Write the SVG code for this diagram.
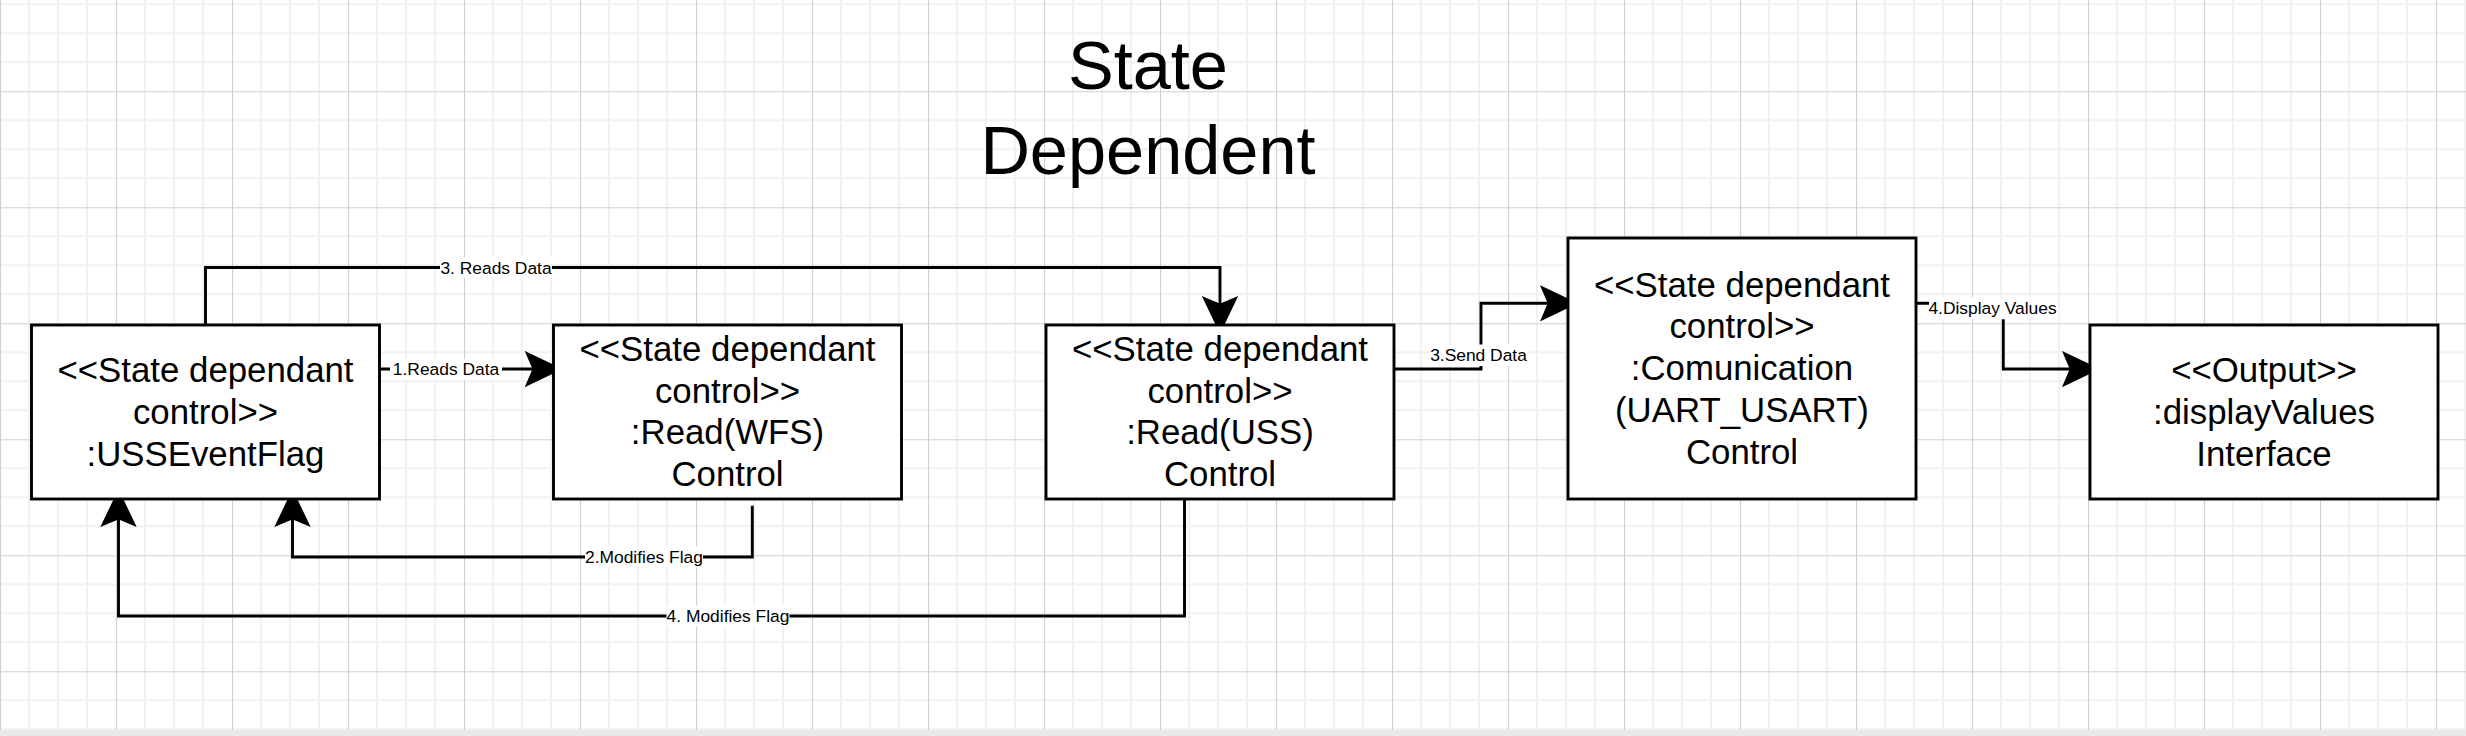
<svg xmlns="http://www.w3.org/2000/svg" width="2466" height="736" viewBox="0 0 2466 736">
  <style>
    .box { fill: #ffffff; stroke: #000000; stroke-width: 2.9; }
    .btxt { font-family: "Liberation Sans", Arial, Helvetica, sans-serif; font-size: 34.8px; fill: #000000; text-anchor: middle; }
    .title { font-family: "Liberation Sans", Arial, Helvetica, sans-serif; font-size: 68.5px; fill: #000000; text-anchor: middle; }
    .edge { fill: none; stroke: #000000; stroke-width: 2.9; marker-end: url(#arr); }
    .edge-plain { fill: none; stroke: #000000; stroke-width: 2.9; }
    .lbg { fill: #ffffff; }
    .ltxt { font-family: "Liberation Sans", Arial, Helvetica, sans-serif; font-size: 17.4px; fill: #000000; text-anchor: middle; }
  </style>
  <defs>
    <pattern id="grid" patternUnits="userSpaceOnUse" x="0" y="91.3" width="116" height="116">
      <rect x="0" y="0" width="116" height="116" fill="#ffffff"/>
      <path d="M29,0 V116 M58,0 V116 M87,0 V116 M0,29 H116 M0,58 H116 M0,87 H116" stroke="#f1f1f1" stroke-width="2" fill="none"/>
      <path d="M0.5,0 V116 M0,0.5 H116" stroke="#cfcfcf" stroke-width="1.2" fill="none"/>
    </pattern>
    <marker id="arr" markerUnits="userSpaceOnUse" markerWidth="40" markerHeight="40" viewBox="-6 -14 28 28" refX="0" refY="0" orient="auto" overflow="visible">
      <path d="M-5,-11.7 L19.5,0 L-5,11.7 L0,0 Z" fill="#000000" stroke="#000000" stroke-width="1"/>
    </marker>
  </defs>

  <rect x="0" y="0" width="2466" height="730" fill="url(#grid)"/>
  <rect x="0" y="730" width="2466" height="6" fill="#e9e9e9"/>

  <g id="title">
    <text class="title" x="1148" y="89">State</text>
    <text class="title" x="1148" y="174">Dependent</text>
  </g>

  <g id="connectors">
    <g id="c1">
      <path class="edge" d="M379.5,369 H533.2"/>
      <rect class="lbg" x="390" y="359" width="112" height="21"/>
      <text class="ltxt" x="446" y="375">1.Reads Data</text>
    </g>
    <g id="c2">
      <path class="edge" d="M205.5,325 V267.5 H1220 V304.5"/>
      <rect class="lbg" x="440" y="257" width="112" height="21"/>
      <text class="ltxt" x="496" y="273.5">3. Reads Data</text>
    </g>
    <g id="c3">
      <path class="edge" d="M752.3,505.7 V557 H292.5 V518.5"/>
      <rect class="lbg" x="585" y="546.5" width="118" height="21"/>
      <text class="ltxt" x="644" y="563">2.Modifies Flag</text>
    </g>
    <g id="c4">
      <path class="edge" d="M1184.5,499 V616 H118.5 V518.5"/>
      <rect class="lbg" x="666.5" y="605.5" width="123" height="21"/>
      <text class="ltxt" x="728" y="622">4. Modifies Flag</text>
    </g>
    <g id="c5">
      <path class="edge" d="M1394,369 H1481 V303.3 H1548.5"/>
      <rect class="lbg" x="1430" y="344.5" width="97" height="21.5"/>
      <text class="ltxt" x="1478.5" y="361">3.Send Data</text>
    </g>
    <g id="c6">
      <path class="edge" d="M1916,303.3 H2003.3 V369 H2070.5"/>
      <rect class="lbg" x="1929" y="297" width="127" height="22.3"/>
      <text class="ltxt" x="1992.5" y="314">4.Display Values</text>
    </g>
  </g>

  <g id="node-usseventflag">
    <rect class="box" x="31.5" y="325" width="348" height="174"/>
    <text class="btxt" x="205.5" y="382.4">&lt;&lt;State dependant</text>
    <text class="btxt" x="205.5" y="424.2">control&gt;&gt;</text>
    <text class="btxt" x="205.5" y="466">:USSEventFlag</text>
  </g>

  <g id="node-read-wfs">
    <rect class="box" x="553.5" y="325" width="348" height="174"/>
    <text class="btxt" x="727.5" y="361.2">&lt;&lt;State dependant</text>
    <text class="btxt" x="727.5" y="402.8">control&gt;&gt;</text>
    <text class="btxt" x="727.5" y="444.4">:Read(WFS)</text>
    <text class="btxt" x="727.5" y="486">Control</text>
  </g>

  <g id="node-read-uss">
    <rect class="box" x="1046" y="325" width="348" height="174"/>
    <text class="btxt" x="1220" y="361.2">&lt;&lt;State dependant</text>
    <text class="btxt" x="1220" y="402.8">control&gt;&gt;</text>
    <text class="btxt" x="1220" y="444.4">:Read(USS)</text>
    <text class="btxt" x="1220" y="486">Control</text>
  </g>

  <g id="node-comunication">
    <rect class="box" x="1568" y="238" width="348" height="261"/>
    <text class="btxt" x="1742" y="296.5">&lt;&lt;State dependant</text>
    <text class="btxt" x="1742" y="338.3">control&gt;&gt;</text>
    <text class="btxt" x="1742" y="380">:Comunication</text>
    <text class="btxt" x="1742" y="421.8">(UART_USART)</text>
    <text class="btxt" x="1742" y="463.5">Control</text>
  </g>

  <g id="node-output">
    <rect class="box" x="2090" y="325" width="348" height="174"/>
    <text class="btxt" x="2264" y="382.4">&lt;&lt;Output&gt;&gt;</text>
    <text class="btxt" x="2264" y="424.2">:displayValues</text>
    <text class="btxt" x="2264" y="466">Interface</text>
  </g>
</svg>
